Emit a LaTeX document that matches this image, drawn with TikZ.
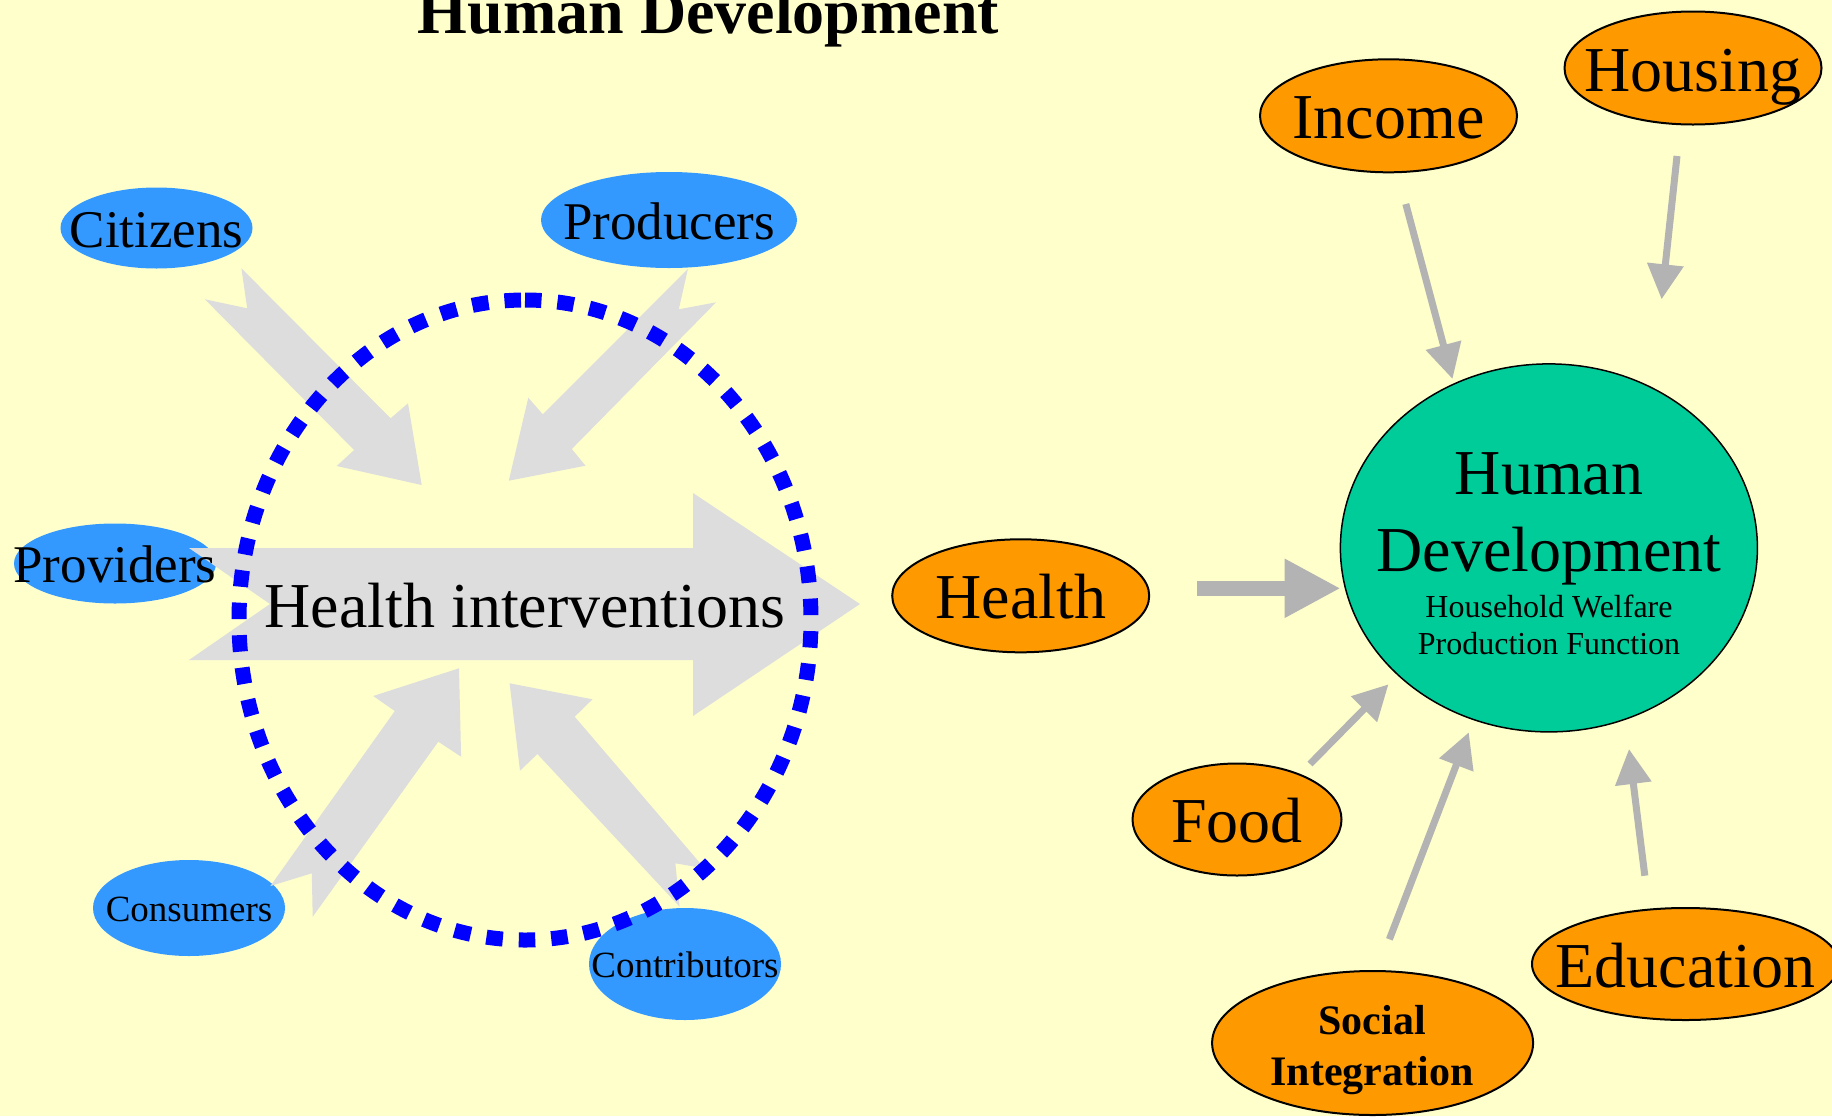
\documentclass[tikz,border=0pt]{standalone}
\usepackage{fontspec}
\setmainfont{Liberation Serif}
\usetikzlibrary{arrows.meta,shapes.geometric}
\definecolor{bgc}{HTML}{FFFFCC}
\definecolor{bluec}{HTML}{3399FF}
\definecolor{orangec}{HTML}{FF9900}
\definecolor{greenc}{HTML}{00CC99}
\definecolor{blockc}{HTML}{DDDDDD}
\definecolor{arrowc}{HTML}{B3B3B3}
\definecolor{ringc}{HTML}{0000FF}
\newcommand{\ctext}[1]{\makebox[0pt]{\raisebox{-0.36em}[0pt][0pt]{#1}}}
\begin{document}
\begin{tikzpicture}[x=1bp,y=-1bp,
  blueell/.style={ellipse, fill=bluec, inner sep=0pt},
  orell/.style={ellipse, fill=orangec, draw=black, line width=2bp, inner sep=0pt},
  blockarrow/.style={fill=blockc},
  grayarrow/.style={draw=arrowc, line width=7bp, -{Triangle[length=35bp,width=35bp]}},
  fatarrow/.style={draw=arrowc, line width=15bp, -{Triangle[length=56bp,width=55bp]}},
  dotring/.style={draw=ringc, line width=15bp, dash pattern=on 16.5bp off 16bp},
  fbig/.style={font=\fontsize{64bp}{77bp}\selectfont},
  fmid/.style={font=\fontsize{53bp}{64bp}\selectfont},
  fsmall/.style={font=\fontsize{37bp}{44bp}\selectfont},
]
\useasboundingbox (0,0) rectangle (1832,1116);
\clip (0,0) rectangle (1832,1116);
\fill[bgc] (0,0) rectangle (1832,1116);

% title
\node[font=\bfseries\fontsize{64bp}{77bp}\selectfont, anchor=base, inner sep=0pt] (title) at (708.5,33) {Human Development};

% blue actor ellipses
\node[blueell, fmid, minimum width=192bp, minimum height=81bp] (cit) at (156.5,228) {\ctext{Citizens}};
\node[blueell, fmid, minimum width=256bp, minimum height=96bp] (prod) at (669,220) {\ctext{Producers}};
\node[blueell, minimum width=202bp, minimum height=80bp] (prov) at (115,563.5) {};
\node[blueell, fsmall, minimum width=192bp, minimum height=96bp] (cons) at (189,908) {\ctext{Consumers}};
\node[blueell, fsmall, minimum width=192bp, minimum height=112bp] (contr) at (685,964) {\ctext{Contributors}};

% block arrows
\fill[blockarrow] (189,548) -- (693,548) -- (693,493) -- (860,604) -- (693,716) -- (693,660) -- (189,660) -- (270,604) -- cycle;
\fill[blockarrow] (241.4,268.3) -- (390.6,418.3) -- (408.0,403.3) -- (421.7,485) -- (336.7,466) -- (354.1,450) -- (204.9,299.3) -- (247.2,308.3) -- cycle;
\fill[blockarrow] (687.9,269) -- (542.8,414.3) -- (528.3,397.7) -- (508.8,480.7) -- (585.5,465.7) -- (571.8,449) -- (716.1,302.3) -- (678.8,309.3) -- cycle;
\fill[blockarrow] (270.4,886) -- (394.8,711) -- (373.2,696) -- (459,668.3) -- (461.1,756.7) -- (438.3,741.7) -- (312.7,916.7) -- (311.8,873.3) -- cycle;
\fill[blockarrow] (679.6,906.7) -- (537.4,754) -- (520,770.7) -- (509.6,683.3) -- (592.5,699.3) -- (574.7,716.7) -- (704.5,868.3) -- (675.4,863.3) -- cycle;

% dotted ring
\draw[dotring] (525,300) arc[start angle=270, end angle=630, x radius=286, y radius=320];

\node[inner sep=0pt, fmid] (provT) at (prov) {\ctext{Providers}};
\node[inner sep=0pt, fbig] (hiT) at (525,604) {\ctext{Health interventions}};

% household factors
\node[orell, fbig, minimum width=257bp, minimum height=113bp] (income) at (1388.5,115.8) {\ctext{Income}};
\node[orell, fbig, minimum width=257bp, minimum height=113bp] (housing) at (1693,68) {\ctext{Housing}};
\node[orell, fbig, minimum width=257bp, minimum height=113bp] (health) at (1020.7,595.8) {\ctext{Health}};
\node[orell, fbig, minimum width=209bp, minimum height=112bp] (food) at (1237,819.5) {\ctext{Food}};
\node[orell, fbig, minimum width=307bp, minimum height=112bp] (edu) at (1685.5,964) {\ctext{Education}};
\node[orell, minimum width=321bp, minimum height=144bp] (soc) at (1372.6,1043) {};
\node[font=\bfseries\fontsize{42bp}{51bp}\selectfont, align=center, anchor=north, inner sep=0pt] (socT) at (1372,1004.8) {Social\\Integration};

\node[ellipse, fill=greenc, draw=black, line width=1.5bp, minimum width=417bp, minimum height=368bp, inner sep=0pt] (hd) at (1548.9,547.9) {};
\node[fbig, align=center, anchor=north, inner sep=0pt] (hdT) at (1549,452) {Human\\Development};
\node[font=\fontsize{32bp}{37bp}\selectfont, align=center, anchor=north, inner sep=0pt] (hdS) at (1549,595) {Household Welfare\\Production Function};

% arrows into human development
\coordinate (h1) at (1197,588.3); \coordinate (h2) at (1340.7,588.3);
\draw[fatarrow] (h1) -- (h2);
\coordinate (inc1) at (1405.8,204); \coordinate (inc2) at (1452.5,379);
\draw[grayarrow] (inc1) -- (inc2);
\coordinate (hou1) at (1677,156); \coordinate (hou2) at (1661.6,299.3);
\draw[grayarrow] (hou1) -- (hou2);
\coordinate (foo1) at (1310,764); \coordinate (foo2) at (1388.5,684.3);
\draw[grayarrow] (foo1) -- (foo2);
\coordinate (soc1) at (1389.4,939.3); \coordinate (soc2) at (1468.8,732.3);
\draw[grayarrow] (soc1) -- (soc2);
\coordinate (edu1) at (1644.8,875.7); \coordinate (edu2) at (1629,749);
\draw[grayarrow] (edu1) -- (edu2);
\end{tikzpicture}
\end{document}
